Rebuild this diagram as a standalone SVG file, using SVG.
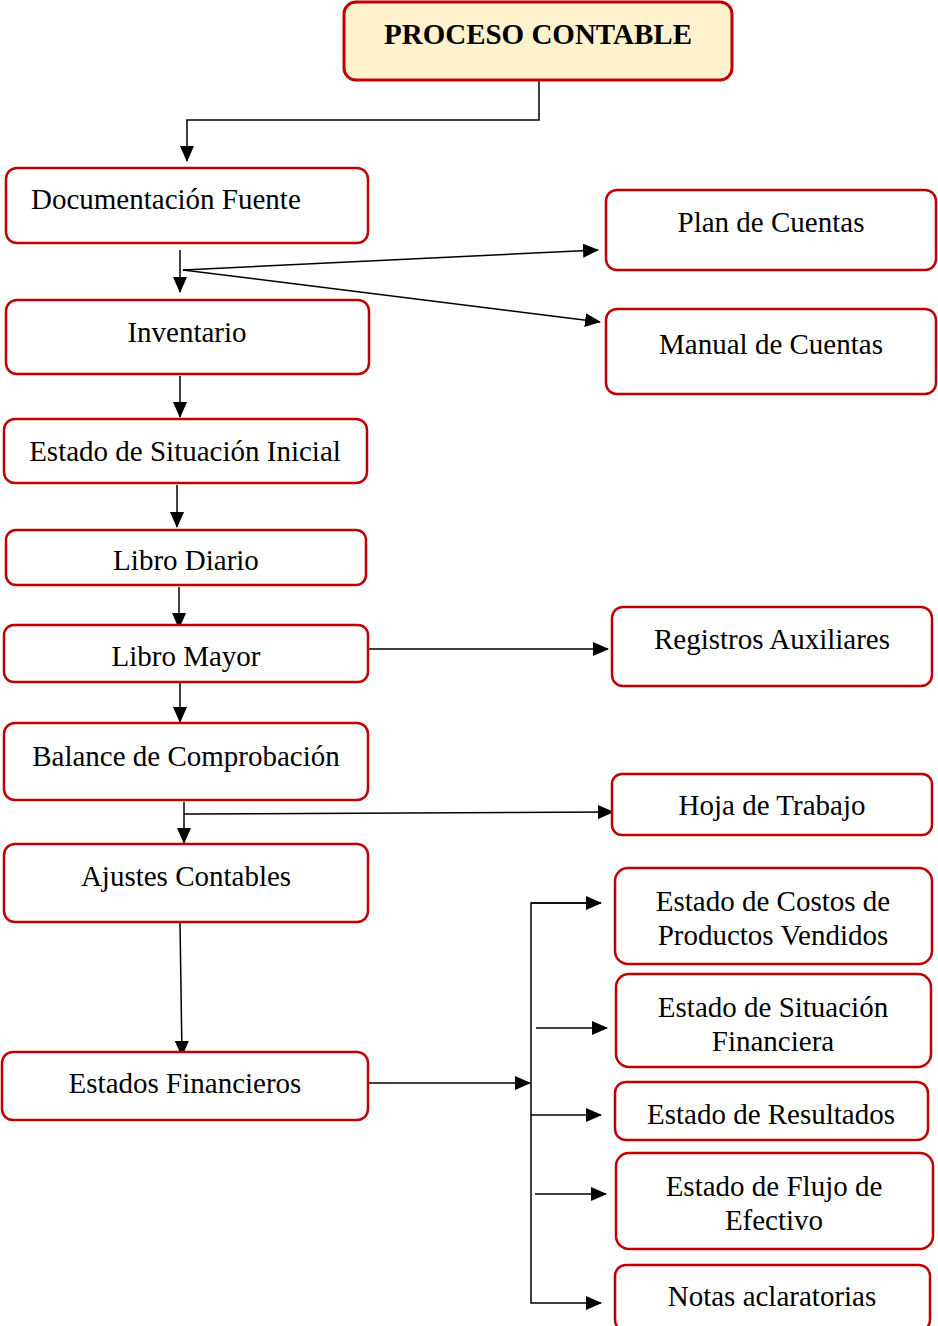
<svg xmlns="http://www.w3.org/2000/svg" width="938" height="1326" viewBox="0 0 938 1326">
<defs>
<marker id="ah" markerUnits="userSpaceOnUse" markerWidth="16" markerHeight="14" refX="15" refY="7" orient="auto">
<path d="M0,0 L16,7 L0,14 Z" fill="#000"/>
</marker>
<style>
.n{fill:#fff;stroke:#c00000;stroke-width:2.5}
.t{font-family:"Liberation Serif","Times New Roman",serif;font-size:29px;fill:#000;text-anchor:middle}
.c{fill:none;stroke:#000;stroke-width:1.5}
</style>
</defs>
<rect width="938" height="1326" fill="#fff"/>
<g id="connectors">
<polyline class="c" points="539,80 539,120 187,120 187,161" marker-end="url(#ah)"/>
<line class="c" x1="180" y1="250" x2="180" y2="292" marker-end="url(#ah)"/>
<line class="c" x1="183" y1="270" x2="598" y2="250" marker-end="url(#ah)"/>
<line class="c" x1="183" y1="270" x2="600" y2="322" marker-end="url(#ah)"/>
<line class="c" x1="180" y1="376" x2="180" y2="417" marker-end="url(#ah)"/>
<line class="c" x1="177" y1="485" x2="177" y2="527" marker-end="url(#ah)"/>
<line class="c" x1="179" y1="587" x2="179" y2="628" marker-end="url(#ah)"/>
<line class="c" x1="369" y1="649" x2="608" y2="649" marker-end="url(#ah)"/>
<line class="c" x1="180" y1="683" x2="180" y2="722" marker-end="url(#ah)"/>
<line class="c" x1="184" y1="802" x2="184" y2="843" marker-end="url(#ah)"/>
<line class="c" x1="184" y1="814" x2="613" y2="812" marker-end="url(#ah)"/>
<line class="c" x1="180" y1="922" x2="182" y2="1056" marker-end="url(#ah)"/>
<line class="c" x1="369" y1="1083" x2="530" y2="1083" marker-end="url(#ah)"/>
<polyline class="c" points="601,903 531,903 531,1303 601,1303" marker-end="url(#ah)"/>
<line class="c" x1="531" y1="903" x2="601" y2="903" marker-end="url(#ah)"/>
<line class="c" x1="531" y1="1115" x2="601" y2="1115" marker-end="url(#ah)"/>
<line class="c" x1="536" y1="1028" x2="607" y2="1028" marker-end="url(#ah)"/>
<line class="c" x1="535" y1="1194" x2="606" y2="1194" marker-end="url(#ah)"/>
</g>
<g id="proceso">
<rect x="344" y="2" width="388" height="78" rx="12" fill="#fff2cc" stroke="#c00000" stroke-width="3"/>
<text class="t" x="538" y="44" font-weight="bold">PROCESO CONTABLE</text>
</g>
<g id="doc"><rect class="n" x="6" y="168" width="362" height="75" rx="11"/><text class="t" x="31" y="209" style="text-anchor:start">Documentación Fuente</text></g>
<g id="plan"><rect class="n" x="606" y="190" width="330" height="80" rx="11"/><text class="t" x="771" y="232">Plan de Cuentas</text></g>
<g id="manual"><rect class="n" x="606" y="309" width="330" height="85" rx="11"/><text class="t" x="771" y="354">Manual de Cuentas</text></g>
<g id="inventario"><rect class="n" x="6" y="300" width="363" height="74" rx="11"/><text class="t" x="187" y="342">Inventario</text></g>
<g id="esi"><rect class="n" x="4" y="419" width="363" height="64" rx="11"/><text class="t" x="185" y="461">Estado de Situación Inicial</text></g>
<g id="diario"><rect class="n" x="6" y="530" width="360" height="55" rx="10"/><text class="t" x="186" y="570">Libro Diario</text></g>
<g id="mayor"><rect class="n" x="4" y="625" width="364" height="57" rx="10"/><text class="t" x="186" y="666">Libro Mayor</text></g>
<g id="registros"><rect class="n" x="612" y="607" width="320" height="79" rx="11"/><text class="t" x="772" y="649">Registros Auxiliares</text></g>
<g id="balance"><rect class="n" x="4" y="723" width="364" height="77" rx="11"/><text class="t" x="186" y="766">Balance de Comprobación</text></g>
<g id="hoja"><rect class="n" x="612" y="774" width="320" height="61" rx="10"/><text class="t" x="772" y="815">Hoja de Trabajo</text></g>
<g id="ajustes"><rect class="n" x="4" y="844" width="364" height="78" rx="11"/><text class="t" x="186" y="886">Ajustes Contables</text></g>
<g id="ef"><rect class="n" x="2" y="1052" width="366" height="68" rx="11"/><text class="t" x="185" y="1093">Estados Financieros</text></g>
<g id="costos"><rect class="n" x="615" y="868" width="317" height="96" rx="13"/><text class="t" x="773" y="911">Estado de Costos de</text><text class="t" x="773" y="945">Productos Vendidos</text></g>
<g id="esf"><rect class="n" x="616" y="974" width="315" height="93" rx="13"/><text class="t" x="773" y="1017">Estado de Situación</text><text class="t" x="773" y="1051">Financiera</text></g>
<g id="resultados"><rect class="n" x="615" y="1082" width="313" height="58" rx="11"/><text class="t" x="771" y="1124">Estado de Resultados</text></g>
<g id="flujo"><rect class="n" x="616" y="1153" width="317" height="96" rx="13"/><text class="t" x="774" y="1196">Estado de Flujo de</text><text class="t" x="774" y="1230">Efectivo</text></g>
<g id="notas"><rect class="n" x="615" y="1265" width="315" height="66" rx="11"/><text class="t" x="772" y="1306">Notas aclaratorias</text></g>
</svg>
